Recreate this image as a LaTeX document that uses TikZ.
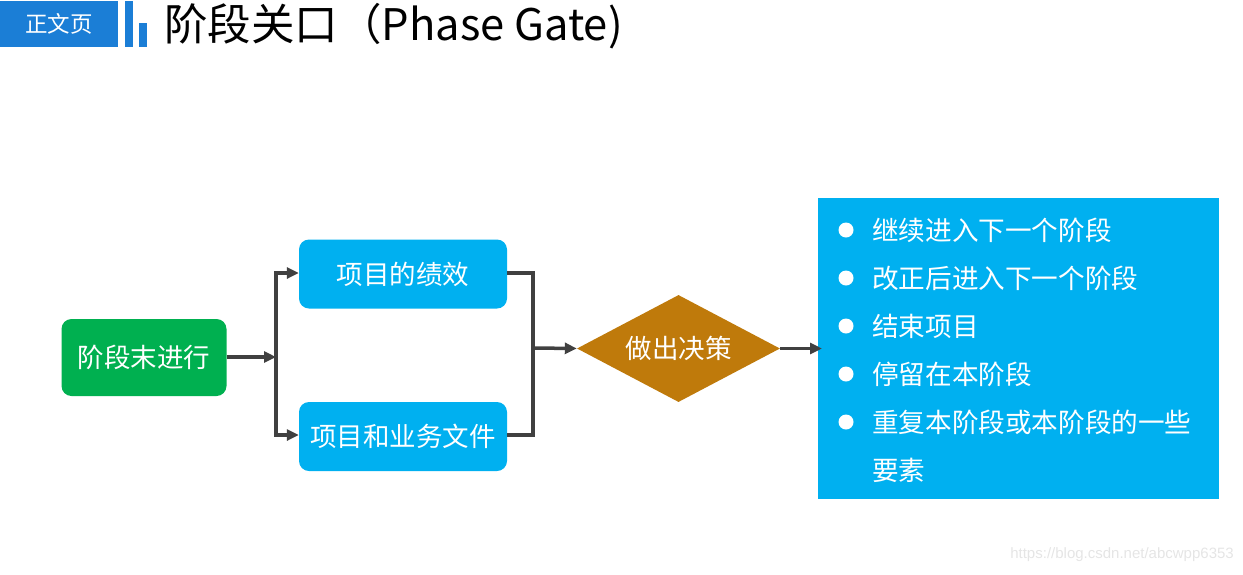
\documentclass[tikz,border=0pt]{standalone}
\usepackage{fontspec}
\setmainfont{Noto Sans CJK SC}
\newfontfamily\wmfont{Liberation Sans}
\usetikzlibrary{arrows.meta,shapes.geometric}
\definecolor{hdrblue}{RGB}{27,126,214}
\definecolor{cyanbox}{RGB}{0,176,240}
\definecolor{greenbox}{RGB}{0,176,80}
\definecolor{goldd}{RGB}{191,122,11}
\definecolor{linegray}{RGB}{64,64,64}
\tikzset{
  rbox/.style={rounded corners=10pt, inner sep=0pt, text=white, font=\fontsize{26.5}{30}\selectfont},
  conn/.style={draw=linegray, line width=3.5pt},
  arr/.style={conn, -{Triangle[length=12pt,width=11pt]}},
  itemtxt/.style={anchor=west, inner sep=0pt, text=white, font=\fontsize{26.6}{30}\selectfont},
  bullet/.style={circle, fill=white, inner sep=0pt, minimum size=15pt},
}
\begin{document}
\begin{tikzpicture}[x=1pt,y=-1pt]
\useasboundingbox (0,0) rectangle (1243,574);
% header
\node[fill=hdrblue, minimum width=118pt, minimum height=46pt, inner sep=0pt, anchor=north west, text=white, font=\fontsize{22.5}{26}\selectfont] (hdr) at (0,1) {正文页};
\fill[hdrblue] (125,1) rectangle (133,47);
\fill[hdrblue] (139,23) rectangle (147,47);
\node[anchor=west, inner sep=0pt, font=\fontsize{43.5}{48}\selectfont] (title) at (164,26) {阶段关口（Phase Gate)};
% nodes
\node[rbox, fill=greenbox, minimum width=165pt, minimum height=77pt] (g) at (144,357.5) {阶段末进行};
\node[rbox, fill=cyanbox, minimum width=208pt, minimum height=69pt] (b1) at (403,274) {项目的绩效};
\node[rbox, fill=cyanbox, minimum width=208pt, minimum height=69pt] (b2) at (403,436.5) {项目和业务文件};
\node[diamond, aspect=1.9, fill=goldd, inner sep=0pt, minimum width=203pt, minimum height=107pt, text=white, font=\fontsize{26.5}{30}\selectfont] (d) at (678.5,348.5) {做出决策};
\node[fill=cyanbox, anchor=north west, minimum width=401pt, minimum height=301pt, inner sep=0pt] (r) at (818,198) {};
\coordinate (j1) at (276,357);
\coordinate (j2) at (533,348);
\draw[arr] (g.east |- j1) -- (j1);
\draw[arr] (j1) |- (b1.west |- 0,273);
\draw[arr] (j1) |- (b2.west |- 0,435);
\draw[conn] (b1.east |- 0,273) -| (j2);
\draw[conn] (b2.east |- 0,435) -| (j2);
\draw[arr] (j2) -- (d.west);
\draw[arr] (d.east) -- ([xshift=4pt]r.west |- d.east);
% list
\foreach \y/\t/\n in {230/继续进入下一个阶段/a, 278/改正后进入下一个阶段/b, 326/结束项目/c, 374/停留在本阶段/d, 422/重复本阶段或本阶段的一些/e}{
  \node[bullet] (bu\n) at (846,\y) {};
  \node[itemtxt] (it\n) at (872,\y) {\t};
}
\node[itemtxt] (itf) at (872,470) {要素};
% watermark
\node[anchor=east, inner sep=0pt, text=black!10, font=\wmfont\fontsize{15}{18}\selectfont] (wm) at (1234,555) {https://blog.csdn.net/abcwpp6353};
\end{tikzpicture}
\end{document}
